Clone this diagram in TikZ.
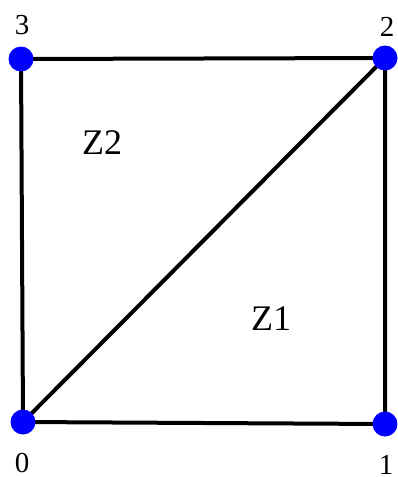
\documentclass[tikz,border=0pt]{standalone}
\usepackage{fontspec}
\setmainfont{Liberation Serif}
\begin{document}
\begin{tikzpicture}[x=1pt,y=-1pt,
  edge/.style={line width=4pt,black},
  vtx/.style={circle,fill=blue,inner sep=0pt,minimum size=25pt},
  vlab/.style={inner sep=0pt,font=\fontsize{29}{31}\selectfont},
  zlab/.style={inner sep=0pt,font=\fontsize{36}{40}\selectfont}]
\useasboundingbox (0,0) rectangle (398,477);
\coordinate (p0) at (23,422);
\coordinate (p1) at (385,424);
\coordinate (p2) at (385,58);
\coordinate (p3) at (21,59);
\draw[edge] (p0) -- (p1) -- (p2) -- (p3) -- cycle;
\draw[edge] (p0) -- (p2);
\node[vtx] (v0) at (p0) {};
\node[vtx] (v1) at (p1) {};
\node[vtx] (v2) at (p2) {};
\node[vtx] (v3) at (p3) {};
\node[vlab] (l3) at (22,25) {3};
\node[vlab] (l2) at (387,27) {2};
\node[vlab] (l0) at (22,463) {0};
\node[vlab] (l1) at (386,465) {1};
\node[zlab] (z2) at (102,143) {Z2};
\node[zlab] (z1) at (271,319) {Z1};
\end{tikzpicture}
\end{document}
